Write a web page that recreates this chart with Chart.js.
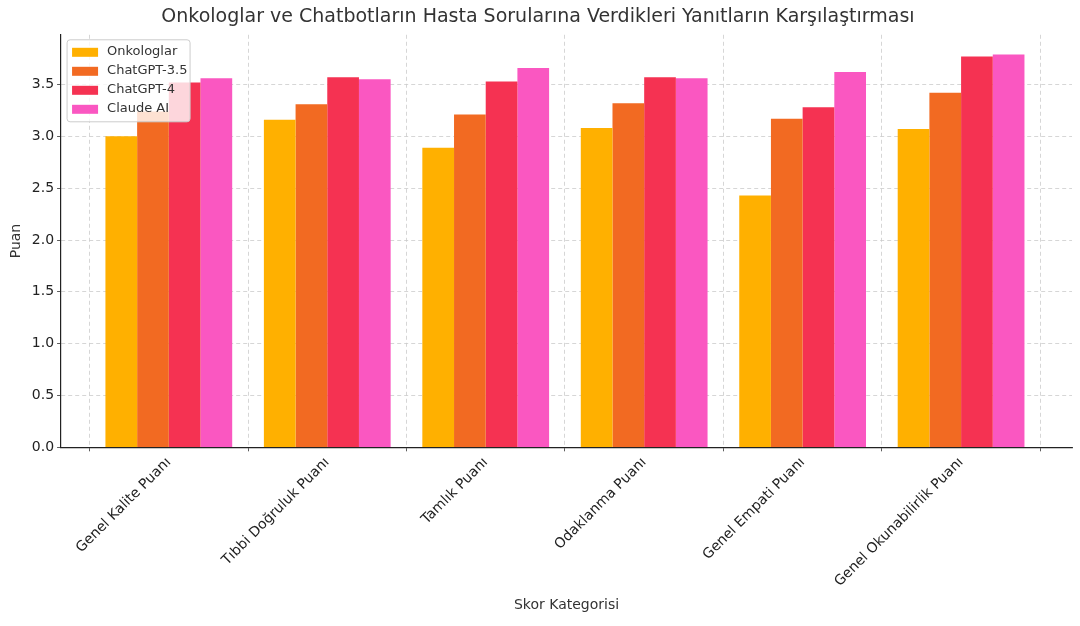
<!DOCTYPE html>
<html>
<head>
<meta charset="utf-8">
<script src="https://cdn.jsdelivr.net/npm/chart.js@4"></script>
<style>
body { margin: 0; background: #fff; }
#wrap { width: 1080px; height: 626px; }
</style>
</head>
<body>
<div id="wrap"><canvas id="myChart"></canvas></div>
<script>
const categories = ['Genel Kalite Puanı', 'Tıbbi Doğruluk Puanı', 'Tamlık Puanı', 'Odaklanma Puanı', 'Genel Empati Puanı', 'Genel Okunabilirlik Puanı'];
const onkologlar = [3.00, 3.16, 2.89, 3.08, 2.43, 3.07];
const chatgpt35 = [3.24, 3.31, 3.21, 3.32, 3.17, 3.42];
const chatgpt4 = [3.52, 3.57, 3.53, 3.57, 3.28, 3.77];
const claude = [3.56, 3.55, 3.66, 3.56, 3.62, 3.79];
const seriesNames = ['Onkologlar', 'ChatGPT-3.5', 'ChatGPT-4', 'Claude AI'];
const colors = ['#ffb000', '#f26a22', '#f53252', '#fa57c1'];

const font = 'DejaVu Sans';

// legend drawn inside the plot area, top-left
const innerLegend = {
    id: 'innerLegend',
    afterDatasetsDraw(chart) {
        const c = chart.ctx;
        const a = chart.chartArea;
        const x = a.left + 6, y = a.top + 5, w = 123, h = 82;
        c.save();
        c.fillStyle = 'rgba(255,255,255,0.8)';
        c.strokeStyle = '#cccccc';
        c.lineWidth = 1;
        c.beginPath();
        c.roundRect(x, y, w, h, 3);
        c.fill();
        c.stroke();
        c.font = '13px ' + font;
        c.textBaseline = 'middle';
        chart.data.datasets.forEach((ds, i) => {
            const ry = y + 12 + i * 19;
            c.fillStyle = ds.backgroundColor;
            c.fillRect(x + 5, ry - 4, 26, 9);
            c.fillStyle = '#333';
            c.fillText(ds.label, x + 40, ry);
        });
        c.restore();
    }
};

const data = {
    datasets: [onkologlar, chatgpt35, chatgpt4, claude].map((vals, i) => ({
        label: seriesNames[i],
        data: vals.map((v, j) => ({ x: j, y: v })),
        backgroundColor: colors[i],
        categoryPercentage: 0.8,
        barPercentage: 1.0
    }))
};

const gridCfg = { color: '#cccccc', lineWidth: 0.8, drawTicks: true, tickColor: '#333', tickLength: 4 };

new Chart(document.getElementById('myChart'), {
    type: 'bar',
    data: data,
    plugins: [innerLegend],
    options: {
        responsive: true,
        maintainAspectRatio: false,
        animation: false,
        layout: { padding: { left: 4, right: 8, top: 2, bottom: 8 } },
        plugins: {
            legend: { display: false },
            tooltip: { enabled: false },
            title: {
                display: true,
                text: 'Onkologlar ve Chatbotların Hasta Sorularına Verdikleri Yanıtların Karşılaştırması',
                color: '#333',
                font: { family: font, size: 19, weight: 'normal' },
                padding: { top: 4, bottom: 6 }
            }
        },
        scales: {
            x: {
                type: 'linear',
                min: -0.68, max: 5.70,
                offset: false,
                grid: gridCfg,
                border: { color: '#222', width: 1.2, dash: [4, 3] },
                afterBuildTicks: axis => {
                    axis.ticks = categories.map((c, i) => ({ value: i }));
                },
                ticks: {
                    color: '#222', maxRotation: 45, minRotation: 45,
                    font: { family: font, size: 14 },
                    callback: v => categories[v]
                },
                title: {
                    display: true, text: 'Skor Kategorisi', color: '#333',
                    font: { family: font, size: 14 }
                }
            },
            y: {
                min: 0, max: 3.98,
                grid: gridCfg,
                border: { color: '#222', width: 1.2, dash: [4, 3] },
                ticks: {
                    color: '#222',
                    font: { family: font, size: 14 },
                    callback: v => v.toFixed(1)
                },
                afterBuildTicks: axis => {
                    axis.ticks = [0, 0.5, 1, 1.5, 2, 2.5, 3, 3.5].map(v => ({ value: v }));
                },
                title: {
                    display: true, text: 'Puan', color: '#333',
                    font: { family: font, size: 14 }
                }
            }
        }
    }
});
</script>
</body>
</html>
